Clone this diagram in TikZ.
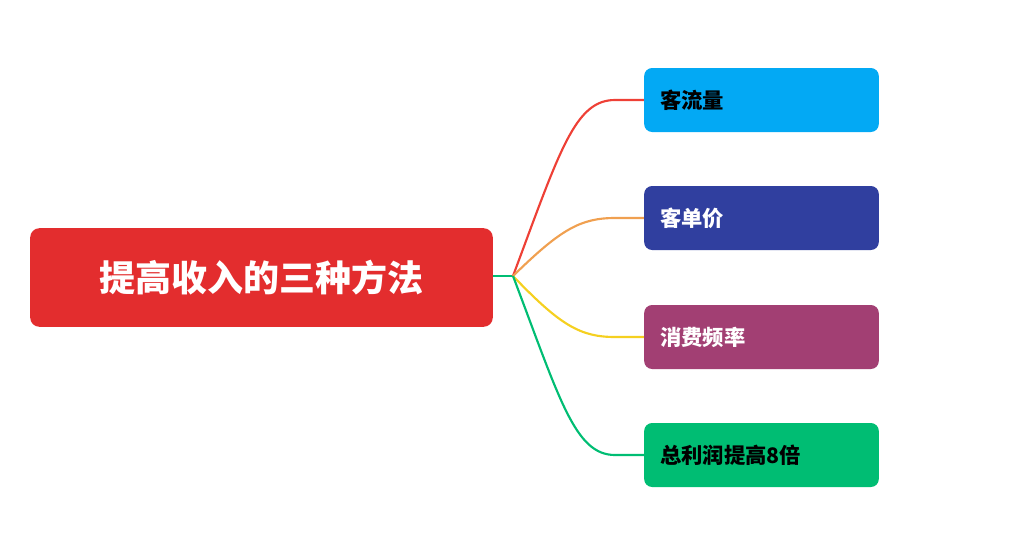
\documentclass[tikz,border=0pt]{standalone}
\usepackage{fontspec}
\newfontfamily\cjk{Noto Sans CJK SC}
\definecolor{rootred}{HTML}{E32D2E}
\definecolor{cblue}{HTML}{03A9F4}
\definecolor{cnavy}{HTML}{303F9F}
\definecolor{cplum}{HTML}{A23F73}
\definecolor{cgreen}{HTML}{00BD73}
\definecolor{lred}{HTML}{EE4036}
\definecolor{lorange}{HTML}{F0A050}
\definecolor{lyellow}{HTML}{F5D020}
\tikzset{
  leaf/.style={rounded corners=6pt, minimum width=176pt, minimum height=48pt,
    text width=152pt, align=left, font=\cjk\bfseries\fontsize{16}{18}\selectfont, inner sep=0pt},
  branch/.style={line width=1.6pt}
}
\begin{document}
\begin{tikzpicture}[x=0.75pt,y=-0.75pt]
  \useasboundingbox (0,0) rectangle (1014,558);
  % root
  \node [fill=rootred, rounded corners=7pt, minimum width=347pt, minimum height=74pt,
    text=white, font=\cjk\bfseries\fontsize{27}{30}\selectfont] (root) at (261.5,277.5) {提高收入的三种方法};
  \coordinate (hub) at (513,276);
  % leaves
  \node [leaf, fill=cblue, text=black] (a) at (761.5,100) {客流量};
  \node [leaf, fill=cnavy, text=white] (b) at (761.5,218) {客单价};
  \node [leaf, fill=cplum, text=white] (c) at (761.5,337) {消费频率};
  \node [leaf, fill=cgreen, text=black] (d) at (761.5,455) {总利润提高8倍};
  % branches
  \draw [branch, cgreen] (root.east |- hub) -- (hub);
  \draw [branch, lred] (hub) .. controls (560,150) and (575,100) .. (615,100) -- (a.west);
  \draw [branch, lorange] (hub) .. controls (560,230) and (580,218) .. (615,218) -- (b.west);
  \draw [branch, lyellow] (hub) .. controls (560,325) and (580,337) .. (615,337) -- (c.west);
  \draw [branch, cgreen] (hub) .. controls (560,400) and (575,455) .. (615,455) -- (d.west);
\end{tikzpicture}
\end{document}
